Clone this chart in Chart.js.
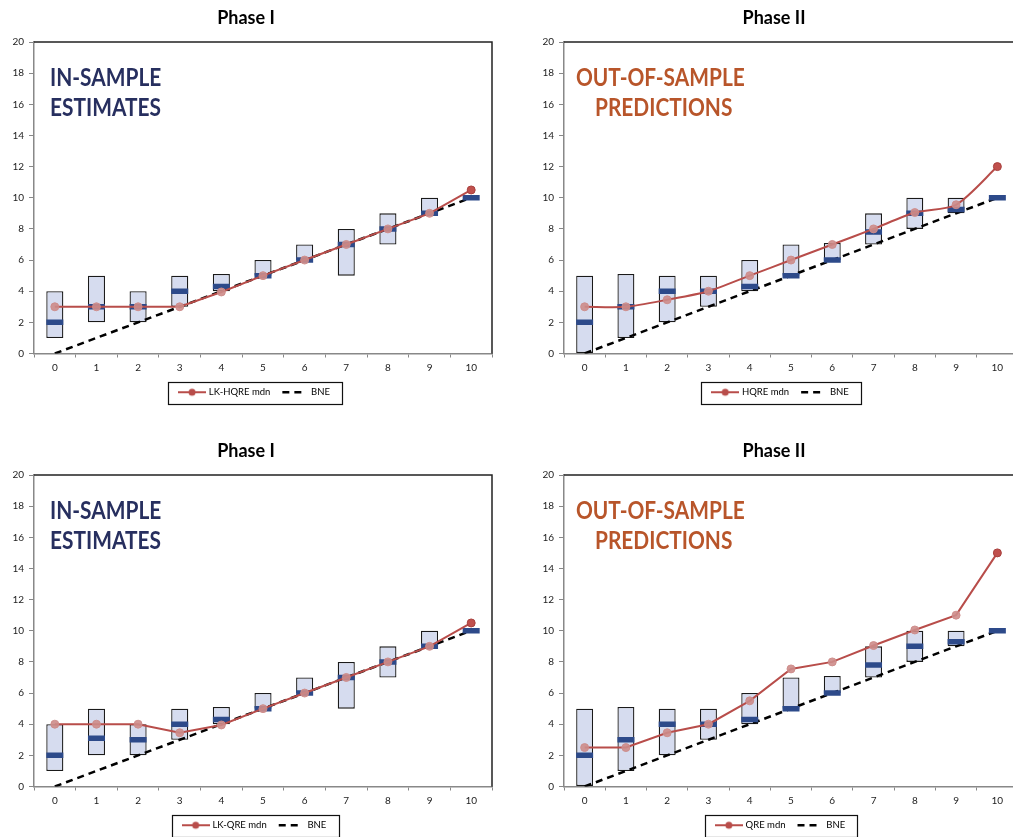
<!DOCTYPE html>
<html>
<head>
<meta charset="utf-8">
<script src="https://cdn.jsdelivr.net/npm/chart.js@4.4.1/dist/chart.umd.min.js"></script>
<style>
  body { margin: 0; background: #fff; overflow: hidden; }
  .panel { position: absolute; height: 412px; }
</style>
</head>
<body>
<div class="panel" style="left:0;top:0;width:506px"><canvas id="c1"></canvas></div>
<div class="panel" style="left:530px;top:0;width:504px"><canvas id="c2"></canvas></div>
<div class="panel" style="left:0;top:433px;width:506px"><canvas id="c3"></canvas></div>
<div class="panel" style="left:530px;top:433px;width:504px"><canvas id="c4"></canvas></div>
<script>
const categories = ['0', '1', '2', '3', '4', '5', '6', '7', '8', '9', '10'];
const bne = [0, 1, 2, 3, 4, 5, 6, 7, 8, 9, 10];

// phase I : range of observed bids and observed median
const phase1Low = [1, 2, 2, 3, 4, 5, 6, 5, 7, 9, null];
const phase1High = [4, 5, 4, 5, 5.1, 6, 7, 8, 9, 10, null];
const phase1ObsTop = [2, 3, 3, 4, 4.3, 5, 6, 7, 8, 9, 10];
const phase1ObsBottom = [2, 3.1, 3, 4, 4.3, 5, 6, 7, 8, 9, 10];

// phase II
const phase2Low = [0, 1, 2, 3, 4, 5, 6, 7, 8, 9, null];
const phase2High = [5, 5.1, 5, 5, 6, 7, 7.1, 9, 10, 10, null];
const phase2ObsTop = [2, 3, 4, 4, 4.3, 5, 6, 7.8, 9, 9.25, 10];
const phase2ObsBottom = [2, 3, 4, 4, 4.3, 5, 6, 7.8, 9, 9.3, 10];

// model medians
const lkHqreMdn = [3, 3, 3, 3, 3.95, 5, 6, 7, 8, 9, 10.5];
const hqreMdn = [3, 3, 3.45, 4, 5, 6, 7, 8, 9.05, 9.55, 12];
const lkQreMdn = [4, 4, 4, 3.45, 3.95, 5, 6, 7, 8, 9, 10.5];
const qreMdn = [2.5, 2.5, 3.45, 4, 5.5, 7.55, 8, 9.05, 10.05, 11, 15];

Chart.defaults.font.family = "Lato, 'Open Sans', sans-serif";
Chart.defaults.color = '#222';

const red = '#b84d4a';
const navy = '#272f5f';
const rust = '#b8552a';

// small picture used as legend symbol: line with a round marker
const mdnSymbol = document.createElement('canvas');
mdnSymbol.width = 28;
mdnSymbol.height = 10;
(function () {
    const g = mdnSymbol.getContext('2d');
    g.strokeStyle = red;
    g.lineWidth = 2;
    g.beginPath();
    g.moveTo(0, 5);
    g.lineTo(28, 5);
    g.stroke();
    g.fillStyle = red;
    g.beginPath();
    g.arc(14, 5, 3.5, 0, Math.PI * 2);
    g.fill();
})();

const panelText = {
    id: 'panelText',
    afterLayout(chart, args, opts) {
        // legend sits a little right of the canvas centre
        chart.legend.left += opts.legendShift;
        chart.legend.right += opts.legendShift;
    },
    afterDraw(chart, args, opts) {
        const ctx = chart.ctx;
        const area = chart.chartArea;
        ctx.save();
        // frame on top and right
        ctx.strokeStyle = '#222';
        ctx.lineWidth = 1.5;
        ctx.beginPath();
        ctx.moveTo(area.left, area.top);
        ctx.lineTo(area.right, area.top);
        ctx.lineTo(area.right, area.bottom);
        ctx.stroke();
        // big label, a bit condensed
        ctx.font = 'bold 24px Lato, sans-serif';
        ctx.fillStyle = opts.color;
        ctx.textBaseline = 'alphabetic';
        for (let i = 0; i < 2; i++) {
            ctx.save();
            ctx.translate(area.left + opts.indent[i], area.top + 44 + i * 30);
            ctx.scale(0.87, 1);
            ctx.fillText(opts.lines[i], 0, 0);
            ctx.restore();
        }
        // box around the legend
        const boxes = chart.legend.legendHitBoxes;
        if (boxes.length) {
            const l = Math.min(...boxes.map(b => b.left)) - 12;
            const r = Math.max(...boxes.map(b => b.left + b.width)) + 12;
            const t = boxes[0].top - 6;
            const b = boxes[0].top + boxes[0].height + 6;
            ctx.strokeStyle = '#111';
            ctx.lineWidth = 1.2;
            ctx.strokeRect(Math.round(l) + 0.5, Math.round(t) + 0.5, Math.round(r - l), Math.round(b - t));
        }
        ctx.restore();
    }
};

function makeChart(id, opt) {
    const ranges = opt.low.map((v, i) => v === null ? null : [v, opt.high[i]]);
    return new Chart(document.getElementById(id), {
        type: 'bar',
        data: {
            labels: categories,
            datasets: [{
                type: 'line',
                label: opt.name,
                data: opt.mdn,
                borderColor: red,
                borderWidth: 2,
                tension: opt.tension,
                pointRadius: 4,
                pointBorderWidth: 1,
                pointBackgroundColor: c => c.dataIndex === 10 ? '#c0504d' : 'rgba(205,140,137,0.9)',
                pointBorderColor: c => c.dataIndex === 10 ? '#a8403d' : 'rgba(205,140,137,0.9)',
                order: 0
            }, {
                type: 'line',
                label: 'observed median',
                data: opt.obs,
                showLine: false,
                pointStyle: 'line',
                pointRadius: 8.5,
                pointHoverRadius: 8.5,
                pointBorderWidth: 5.5,
                pointBorderColor: '#2d4a8a',
                order: 1
            }, {
                type: 'line',
                label: 'BNE',
                data: bne,
                borderColor: '#000',
                borderWidth: 2.5,
                borderDash: [7, 5],
                pointRadius: 0,
                order: 2
            }, {
                label: 'range',
                data: ranges,
                backgroundColor: '#d6dcef',
                borderColor: '#1a1a1a',
                borderWidth: 1.3,
                borderSkipped: false,
                barPercentage: 0.41,
                categoryPercentage: 1,
                order: 3
            }]
        },
        options: {
            responsive: true,
            maintainAspectRatio: false,
            animation: false,
            layout: { padding: { left: 0, right: opt.right, top: 0, bottom: 5 } },
            scales: {
                x: {
                    offset: true,
                    grid: { offset: true, drawOnChartArea: false, tickLength: 4, color: '#888' },
                    border: { color: '#888', width: 1.5 },
                    ticks: { font: { size: 10 }, padding: 4, color: '#222' },
                    afterFit: s => { s.height = 22; }
                },
                y: {
                    min: 0,
                    max: 20,
                    ticks: { stepSize: 2, font: { size: 10 }, padding: 5, color: '#222' },
                    grid: { drawOnChartArea: false, tickLength: 5, color: '#888' },
                    border: { color: '#888', width: 1.5 },
                    afterFit: s => { s.width = 34; }
                }
            },
            plugins: {
                title: {
                    display: true,
                    text: opt.title,
                    color: '#000',
                    font: { size: 18, weight: 'bold' },
                    padding: { top: 7, bottom: 13.4 }
                },
                legend: {
                    position: 'bottom',
                    labels: {
                        usePointStyle: true,
                        pointStyleWidth: 24,
                        padding: 12,
                        color: '#000',
                        font: { size: 9.5 },
                        generateLabels: () => [{
                            text: opt.name,
                            pointStyle: mdnSymbol,
                            fillStyle: red,
                            strokeStyle: red,
                            lineWidth: 0,
                            hidden: false
                        }, {
                            text: 'BNE',
                            pointStyle: 'line',
                            fillStyle: '#000',
                            strokeStyle: '#000',
                            lineWidth: 2.5,
                            lineDash: [7, 5],
                            hidden: false
                        }]
                    }
                },
                tooltip: { enabled: false },
                panelText: opt.text
            }
        },
        plugins: [panelText]
    });
}

makeChart('c1', {
    title: 'Phase I', name: 'LK-HQRE mdn', low: phase1Low, high: phase1High,
    obs: phase1ObsTop, mdn: lkHqreMdn, tension: 0, right: 14,
    text: { lines: ['IN-SAMPLE', 'ESTIMATES'], color: navy, indent: [16, 16], legendShift: 9 }
});
makeChart('c2', {
    title: 'Phase II', name: 'HQRE mdn', low: phase2Low, high: phase2High,
    obs: phase2ObsTop, mdn: hqreMdn, tension: 0.25, right: 16,
    text: { lines: ['OUT-OF-SAMPLE', 'PREDICTIONS'], color: rust, indent: [12, 31], legendShift: 7 }
});
makeChart('c3', {
    title: 'Phase I', name: 'LK-QRE mdn', low: phase1Low, high: phase1High,
    obs: phase1ObsBottom, mdn: lkQreMdn, tension: 0, right: 14,
    text: { lines: ['IN-SAMPLE', 'ESTIMATES'], color: navy, indent: [16, 16], legendShift: 9 }
});
makeChart('c4', {
    title: 'Phase II', name: 'QRE mdn', low: phase2Low, high: phase2High,
    obs: phase2ObsBottom, mdn: qreMdn, tension: 0, right: 16,
    text: { lines: ['OUT-OF-SAMPLE', 'PREDICTIONS'], color: rust, indent: [12, 31], legendShift: 7 }
});
</script>
</body>
</html>
